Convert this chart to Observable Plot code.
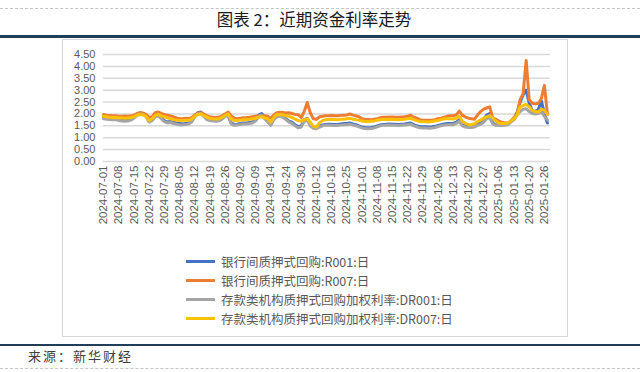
<!DOCTYPE html>
<html>
<head>
<meta charset="utf-8">
<script src="https://cdn.jsdelivr.net/npm/d3@7"></script>
<script src="https://cdn.jsdelivr.net/npm/@observablehq/plot@0.6"></script>
<style>
  html, body { margin: 0; padding: 0; background: #fff; }
  #page { position: relative; width: 640px; height: 372px; overflow: hidden; font-family: "Noto Sans CJK SC", "Noto Sans", sans-serif; }
  .abs { position: absolute; }
  #title { left: 0; width: 628px; top: 8px; text-align: center; font-size: 16.5px; color: #1a1a1a; line-height: 22px; font-weight: 400; }
  #legend { left: 186px; top: 252px; font-size: 12.5px; color: #595959; }
  .lg { display: flex; align-items: center; height: 19px; }
  .sw { width: 29px; height: 3px; margin-right: 6px; }
  #source { left: 28px; top: 347px; font-size: 13px; color: #404040; letter-spacing: 2px; line-height: 18px; font-weight: 400; }
</style>
</head>
<body>
<div id="page">
  <div class="abs" style="left:0;top:8px;width:640px;border-top:1px dashed #c4c4c4;"></div>
  <div id="title" class="abs"></div>
  <div class="abs" style="left:0;top:35px;width:640px;height:3px;background:#203d5a;"></div>
  <div class="abs" style="left:62px;top:39px;width:504px;height:296px;border:1px solid #d9d9d9;"></div>
  <div id="chart" class="abs" style="left:0;top:0;"></div>
  <div id="legend" class="abs"></div>
  <div class="abs" style="left:0;top:344px;width:640px;height:2px;background:#203d5a;"></div>
  <div id="source" class="abs"></div>
  <div class="abs" style="left:0;top:368px;width:640px;border-top:1px dashed #c4c4c4;"></div>
</div>
<script>
const titleText = "图表 2：近期资金利率走势";
const sourceText = "来源：新华财经";

const seriesNames = ["银行间质押式回购:R001:日", "银行间质押式回购:R007:日", "存款类机构质押式回购加权利率:DR001:日", "存款类机构质押式回购加权利率:DR007:日"];
const seriesColors = ["#4472C4", "#ED7D31", "#A5A5A5", "#FFC000"];

const tickLabels = ["2024-07-01","2024-07-08","2024-07-15","2024-07-22","2024-07-29","2024-08-05","2024-08-12","2024-08-19","2024-08-26","2024-09-02","2024-09-09","2024-09-14","2024-09-24","2024-09-30","2024-10-12","2024-10-18","2024-10-25","2024-11-01","2024-11-08","2024-11-15","2024-11-22","2024-11-29","2024-12-06","2024-12-13","2024-12-20","2024-12-27","2025-01-06","2025-01-13","2025-01-20","2025-01-26"];
const yTicks = [0, 0.5, 1, 1.5, 2, 2.5, 3, 3.5, 4, 4.5];

// one value per trading day, 2024-07-01 .. 2025-01-27
const r001 = [
1.86,1.84,1.82,1.80,1.80, 1.76,1.74,1.72,1.73,1.78, 1.85,1.98,2.05,2.02,1.92, 1.70,1.76,1.92,1.96,1.85,
1.72,1.66,1.68,1.65,1.62, 1.60,1.58,1.60,1.62,1.70, 1.92,2.05,2.08,1.95,1.80, 1.76,1.74,1.73,1.75,1.82,
1.95,1.98,1.62,1.56,1.57, 1.60,1.62,1.62,1.64,1.66, 1.75,1.95,2.02,1.86,1.70, 1.55,1.80,1.92,1.94,1.90,
1.80,1.70,1.65,1.55,1.46, 1.50,1.75,1.82,1.55,1.42, 1.42,1.48,1.54,1.56,1.57, 1.57,1.56,1.56,1.58,1.60,
1.60,1.62,1.58,1.55,1.50, 1.45,1.43,1.42,1.43,1.45, 1.50,1.54,1.56,1.57,1.58, 1.57,1.57,1.56,1.57,1.58,
1.60,1.62,1.55,1.50,1.47, 1.46,1.46,1.45,1.46,1.48, 1.52,1.55,1.58,1.60,1.60, 1.60,1.65,1.76,1.55,1.50,
1.48,1.48,1.50,1.58,1.62, 1.75,1.95,2.02,1.62,1.55, 1.55,1.54,1.55,1.58,1.70, 1.82,2.05,2.50,2.80,3.00,
2.45,2.15,2.10,2.20,2.55, 2.00,1.62];
const r007 = [
1.98,1.95,1.93,1.92,1.92, 1.90,1.90,1.91,1.90,1.92, 1.95,2.02,2.05,2.04,1.98, 1.85,1.88,2.05,2.08,2.02,
1.98,1.95,1.92,1.88,1.83, 1.80,1.80,1.82,1.81,1.84, 1.95,2.03,2.05,2.00,1.92, 1.88,1.86,1.85,1.87,1.92,
2.00,2.08,1.92,1.82,1.80, 1.82,1.84,1.84,1.86,1.88, 1.90,1.92,1.95,1.92,1.90, 1.82,1.95,2.05,2.07,2.06,
2.04,2.05,2.02,1.98,1.97, 1.85,2.10,2.48,2.05,1.80, 1.77,1.88,1.90,1.92,1.92, 1.93,1.92,1.92,1.94,1.95,
1.96,2.00,1.95,1.92,1.88, 1.80,1.77,1.77,1.76,1.78, 1.80,1.84,1.86,1.86,1.87, 1.87,1.86,1.86,1.87,1.88,
1.90,1.95,1.86,1.82,1.76, 1.74,1.74,1.73,1.74,1.76, 1.80,1.82,1.86,1.90,1.92, 1.92,1.96,2.12,1.95,1.87,
1.82,1.80,1.78,1.95,2.10, 2.20,2.25,2.30,1.84,1.78, 1.70,1.65,1.62,1.63,1.70, 1.85,1.98,2.60,2.85,4.25,
2.60,2.45,2.42,2.45,2.65, 3.20,1.98];
const dr001 = [
1.80,1.78,1.77,1.76,1.76, 1.72,1.70,1.69,1.70,1.74, 1.82,1.94,2.00,1.98,1.88, 1.66,1.72,1.88,1.92,1.80,
1.68,1.62,1.64,1.60,1.57, 1.55,1.54,1.56,1.58,1.66, 1.88,2.00,2.02,1.90,1.76, 1.72,1.70,1.69,1.71,1.78,
1.90,1.92,1.58,1.52,1.53, 1.56,1.58,1.58,1.60,1.62, 1.70,1.88,1.95,1.80,1.66, 1.52,1.76,1.88,1.90,1.86,
1.76,1.66,1.60,1.50,1.42, 1.45,1.68,1.74,1.50,1.40, 1.38,1.44,1.50,1.52,1.52, 1.52,1.51,1.51,1.53,1.55,
1.55,1.57,1.53,1.50,1.46, 1.41,1.39,1.38,1.39,1.41, 1.46,1.50,1.52,1.52,1.53, 1.52,1.52,1.51,1.52,1.53,
1.55,1.57,1.50,1.46,1.42, 1.41,1.41,1.40,1.41,1.43, 1.47,1.50,1.53,1.55,1.55, 1.55,1.60,1.70,1.50,1.45,
1.43,1.43,1.45,1.52,1.56, 1.65,1.80,1.85,1.58,1.52, 1.52,1.51,1.52,1.55,1.66, 1.76,1.95,2.10,2.20,2.22,
2.10,2.02,2.00,2.02,2.10, 1.90,1.75];
const dr007 = [
1.90,1.88,1.86,1.85,1.85, 1.84,1.83,1.82,1.83,1.85, 1.88,1.95,1.98,1.96,1.90, 1.72,1.80,1.95,1.98,1.92,
1.88,1.84,1.80,1.76,1.74, 1.72,1.72,1.74,1.73,1.78, 1.90,1.98,2.00,1.94,1.86, 1.82,1.80,1.79,1.80,1.86,
1.94,2.00,1.80,1.72,1.72, 1.74,1.76,1.76,1.78,1.80, 1.82,1.86,1.88,1.84,1.80, 1.65,1.85,1.97,1.98,1.97,
1.92,1.90,1.85,1.78,1.72, 1.70,1.75,1.80,1.65,1.48, 1.45,1.62,1.72,1.76,1.77, 1.77,1.77,1.76,1.78,1.78,
1.80,1.82,1.78,1.76,1.74, 1.70,1.68,1.68,1.69,1.70, 1.74,1.76,1.77,1.77,1.78, 1.77,1.77,1.76,1.77,1.78,
1.80,1.82,1.76,1.72,1.68, 1.67,1.67,1.66,1.68,1.70, 1.72,1.76,1.80,1.80,1.80, 1.79,1.82,1.90,1.70,1.60,
1.55,1.56,1.58,1.68,1.74, 1.82,1.88,1.93,1.84,1.70, 1.62,1.60,1.60,1.62,1.70, 1.80,1.95,2.30,2.35,2.40,
2.30,2.15,2.10,2.08,2.20, 2.15,1.98];

const seriesValues = [r001, r007, dr001, dr007];

document.getElementById("title").textContent = titleText;
document.getElementById("source").textContent = sourceText;

const table = [];
seriesValues.forEach((vals, k) => vals.forEach((v, i) => table.push({i, v, s: seriesNames[k]})));

const tickIdx = tickLabels.map((_, j) => j * 5);

const chart = Plot.plot({
  width: 640,
  height: 260,
  marginLeft: 103,
  marginRight: 90,
  marginTop: 54,
  marginBottom: 99,
  style: { fontFamily: "'Liberation Sans', Arial, sans-serif", fontSize: "11px", color: "#595959", background: "transparent" },
  x: { domain: [0, 147] },
  y: { domain: [0, 4.5] },
  color: { domain: seriesNames, range: seriesColors },
  marks: [
    Plot.gridY(yTicks, { stroke: "#d9d9d9", strokeOpacity: 1, strokeWidth: 1.5 }),
    Plot.axisY({ ticks: yTicks, tickFormat: d3.format(".2f"), tickSize: 0, tickPadding: 8, label: null, fill: "#595959", fontSize: 11 }),
    Plot.axisX({ ticks: tickIdx, tickFormat: i => tickLabels[i / 5], tickRotate: -90, tickSize: 0, tickPadding: 4, label: null, fill: "#595959", fontSize: 11.5 }),
    Plot.line(table, { x: "i", y: "v", z: "s", stroke: "s", strokeWidth: 3, strokeLinejoin: "round", strokeLinecap: "round" })
  ]
});
document.getElementById("chart").appendChild(chart);

const legend = document.getElementById("legend");
seriesNames.forEach((name, k) => {
  const row = document.createElement("div");
  row.className = "lg";
  const sw = document.createElement("div");
  sw.className = "sw";
  sw.style.background = seriesColors[k];
  const tx = document.createElement("span");
  tx.textContent = name;
  row.appendChild(sw);
  row.appendChild(tx);
  legend.appendChild(row);
});
</script>
</body>
</html>
